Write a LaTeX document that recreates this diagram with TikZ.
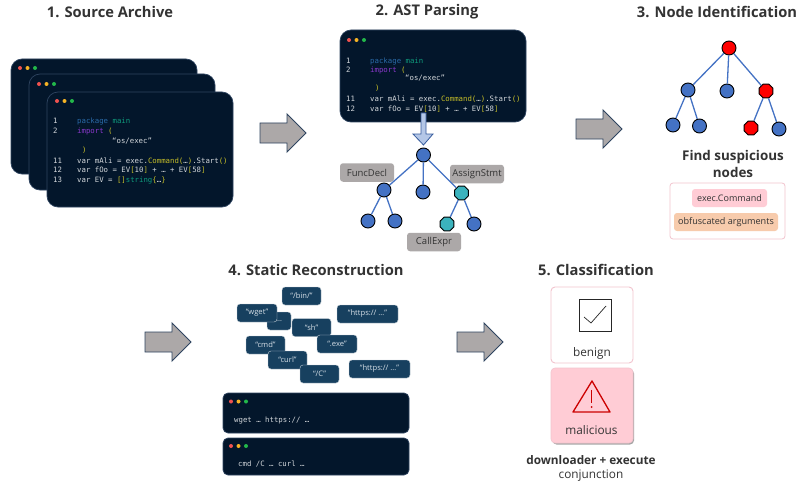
\documentclass[tikz,border=0pt]{standalone}
\usepackage{fontspec}
\setmainfont{Open Sans}
\setmonofont{DejaVu Sans Mono}
\usetikzlibrary{shapes.geometric}
\definecolor{win}{HTML}{03162B}
\definecolor{winb}{HTML}{2E4460}
\definecolor{codetxt}{HTML}{D2D6DA}
\definecolor{kwblue}{HTML}{2A6AA8}
\definecolor{kwgreen}{HTML}{0F9A7C}
\definecolor{kwpurple}{HTML}{8A38CC}
\definecolor{kwyel}{HTML}{C4BC28}
\definecolor{treeblue}{HTML}{4472C4}
\definecolor{teal}{HTML}{3BB3BD}
\definecolor{pinkb}{HTML}{F2C4CE}
\definecolor{pinkf}{HTML}{FFCCD5}
\definecolor{peach}{HTML}{F7CBAC}
\definecolor{pill}{HTML}{17405F}
\definecolor{pilltxt}{HTML}{D5DEE6}
\definecolor{lab}{HTML}{ACA8A8}
\definecolor{inkc}{HTML}{333333}
\definecolor{downfill}{HTML}{B4C7E7}
\definecolor{dotr}{HTML}{F0524F}
\definecolor{doty}{HTML}{F5B325}
\definecolor{dotg}{HTML}{22B84A}
\newcommand{\ky}[1]{\textcolor{kwyel}{#1}}
\newcommand{\kg}[1]{\textcolor{kwgreen}{#1}}
\newcount\clc
\newcommand{\cl}[3]{\global\advance\clc by 1 \node[codeline] (code\the\clc) at (#1,#2) {#3};}
\newcommand{\windots}[2]{%
  \fill[dotr] (#1,#2) circle (2pt);
  \fill[doty] (#1+7.5,#2) circle (2pt);
  \fill[dotg] (#1+15,#2) circle (2pt);}
\newcommand{\bigarr}[2]{\draw[garrow] (#1,#2-10) -- (#1+27,#2-10) -- (#1+27,#2-19) -- (#1+46,#2) -- (#1+27,#2+19) -- (#1+27,#2+10) -- (#1,#2+10) -- cycle;}
\tikzset{
  x=1pt,y=-1pt,
  codeline/.style={anchor=base west,inner sep=0pt,text=codetxt,font=\ttfamily\fontsize{7.35}{9}\selectfont},
  window/.style={fill=win,draw=winb,line width=0.7pt,rounded corners=#1},
  garrow/.style={fill=lab,draw=winb,line width=0.9pt},
  ttl/.style={font=\fontsize{14.7}{17}\selectfont\bfseries,text=inkc,inner sep=0pt},
  tnode/.style={circle,draw=black,fill=treeblue,line width=0.9pt,minimum size=#1,inner sep=0pt},
  hexn/.style={regular polygon,regular polygon sides=8,draw=black,fill=#1,line width=0.9pt,minimum size=15pt,inner sep=0pt},
  tedge/.style={treeblue,line width=1.3pt},
  glab/.style={fill=lab,rounded corners=3pt,text=inkc,font=\fontsize{9.5}{11}\selectfont,minimum width=54pt,minimum height=18.5pt,inner sep=0pt},
  pillb/.style={fill=pill,draw=white!75!pill,line width=0.4pt,rounded corners=3pt,text=pilltxt,font=\fontsize{7.6}{9}\selectfont,minimum height=18pt,minimum width=#1,inner sep=0pt},
  lbl/.style={inner sep=0pt,text=inkc,font=\fontsize{9}{11}\selectfont},
  bold/.style={inner sep=0pt,text=inkc,font=\fontsize{13.4}{17}\selectfont\bfseries,align=center},
}
\begin{document}
\begin{tikzpicture}
\useasboundingbox (0,0) rectangle (796,487);
\fill[white] (0,0) rectangle (796,487);
% titles
\node[ttl] (t1) at (110,12) {1. Source Archive};
\node[ttl] (t2) at (427,12) {2. AST Parsing};
\node[ttl] (t3) at (717,12) {3. Node Identification};
\node[ttl] (t4) at (316,270) {4. Static Reconstruction};
\node[ttl] (t5) at (596,270) {5. Classification};
% source archive
\draw[window=11pt] (11,59) rectangle (197,174); \windots{20}{68}
\draw[window=11pt] (29,74) rectangle (215,190); \windots{39}{84}
\draw[window=11pt] (47,92) rectangle (233,207); \windots{57}{101}
\cl{53}{124}{1}
\cl{53}{134}{2}
\cl{53}{163}{11}
\cl{53}{172}{12}
\cl{53}{182}{13}
\cl{77}{124}{\textcolor{kwblue}{package} \kg{main}}
\cl{77}{134}{\textcolor{kwpurple}{import} \ky{(}}
\cl{112}{143}{“os/exec”}
\cl{82}{153}{\ky{)}}
\cl{77}{163}{var mAli = exec.\ky{Command(}…\ky{)}.Start\ky{()}}
\cl{77}{172}{var fOo = EV\ky{[}10\ky{]} + … + EV\ky{[}58\ky{]}}
\cl{77}{182}{var EV = \ky{[]}\kg{string}\ky{\{}…\ky{\}}}
% arrows
\bigarr{260}{133}
\bigarr{576}{129}
\bigarr{145}{342}
\bigarr{457}{342}
% AST window
\draw[window=11pt] (340,30) rectangle (526,122); \windots{349}{40}
\cl{346}{64}{1}
\cl{346}{73}{2}
\cl{346}{102}{11}
\cl{346}{111}{12}
\cl{370}{64}{\textcolor{kwblue}{package} \kg{main}}
\cl{370}{73}{\textcolor{kwpurple}{import} \ky{(}}
\cl{405}{81}{“os/exec”}
\cl{375}{91}{\ky{)}}
\cl{370}{102}{var mAli = exec.\ky{Command(}…\ky{)}.Start\ky{()}}
\cl{370}{111}{var fOo = EV\ky{[}10\ky{]} + … + EV\ky{[}58\ky{]}}
\draw[fill=downfill,draw=treeblue!80!black,line width=0.8pt]
  (421,113) -- (426,113) -- (426,134) -- (433,134) -- (423.5,145) -- (413,134) -- (421,134) -- cycle;
% AST labels
\node[glab] (funcdecl) at (367,172.5) {FuncDecl};
\node[glab] (assign) at (477,174) {AssignStmt};
\node[glab] (callexpr) at (434,242) {CallExpr};
% AST tree
\node[tnode=14pt] (a0) at (423.5,155) {};
\node[tnode=14pt] (a1) at (384,190) {};
\node[tnode=14pt] (a2) at (423,192) {};
\node[hexn=teal] (a3) at (461.5,193) {};
\node[tnode=14pt] (a4) at (368,221) {};
\node[tnode=14pt] (a5) at (395,221) {};
\node[hexn=teal] (a6) at (447,224) {};
\node[tnode=14pt] (a7) at (474,224) {};
\draw[tedge] (a0) -- (a1); \draw[tedge] (a0) -- (a2); \draw[tedge] (a0) -- (a3);
\draw[tedge] (a1) -- (a4); \draw[tedge] (a1) -- (a5);
\draw[tedge] (a3) -- (a6); \draw[tedge] (a3) -- (a7);
% Node identification tree
\node[tnode=14pt,fill=red] (b0) at (729,48) {};
\node[tnode=14pt] (b1) at (688,90) {};
\node[tnode=14pt] (b2) at (727,91) {};
\node[hexn=red] (b3) at (766,91) {};
\node[tnode=14pt] (b4) at (673,125) {};
\node[tnode=14pt] (b5) at (699.5,126) {};
\node[hexn=red] (b6) at (751,128) {};
\node[tnode=14pt] (b7) at (779,129) {};
\draw[tedge] (b0) -- (b1); \draw[tedge] (b0) -- (b2); \draw[tedge] (b0) -- (b3);
\draw[tedge] (b1) -- (b4); \draw[tedge] (b1) -- (b5);
\draw[tedge] (b3) -- (b6); \draw[tedge] (b3) -- (b7);
\node[bold] (find) at (733,163.5) {Find suspicious\\nodes};
\draw[draw=pinkb,fill=white,rounded corners=3pt,line width=0.8pt] (670,183) rectangle (785,239);
\node[fill=pinkf,rounded corners=3pt,minimum width=75pt,minimum height=18pt,inner sep=0pt,lbl,font=\fontsize{9}{11}\selectfont] (ec) at (729.5,198) {exec.Command};
\node[fill=peach,rounded corners=3pt,minimum width=104pt,minimum height=18pt,inner sep=0pt,lbl,font=\fontsize{9.1}{11}\selectfont] (ob) at (726,222) {obfuscated arguments};
% pills
\node[pillb=24pt] (p3) at (279,321) {…};
\node[pillb=39pt] (p1) at (301.5,296) {“/bin/”};
\node[pillb=40pt] (p2) at (257,313) {“wget”};
\node[pillb=39pt] (p4) at (311.5,327.5) {“sh”};
\node[pillb=40pt] (p5) at (337,344) {“.exe”};
\node[pillb=61pt] (p6) at (367.5,314) {“https:// …”};
\node[pillb=39pt] (p7) at (265.5,345) {“cmd”};
\node[pillb=39pt] (p8) at (287.5,360) {“curl”};
\node[pillb=39pt] (p9) at (319.5,374) {“/C”};
\node[pillb=61pt] (p10) at (379.5,369) {“https:// …”};
% terminals
\draw[window=5pt] (223,393) rectangle (409,433); \windots{231}{401.5}
\cl{234}{422}{wget … https:// …}
\draw[window=5pt] (223,438) rectangle (409,475); \windots{231}{446}
\cl{238}{466}{cmd /C … curl …}
% benign
\draw[draw=pinkb,fill=white,rounded corners=4pt,line width=0.9pt] (551,287) rectangle (633,363);
\draw[black!85,line width=0.9pt] (579,299) rectangle (611,331);
\draw[black!85,line width=0.7pt] (584,317) -- (591,323) -- (606,306);
\node[lbl,font=\fontsize{11.8}{14}\selectfont] (benign) at (592,353) {benign};
% malicious
\fill[gray!70,rounded corners=4pt] (552.5,369.5) rectangle (634,444.5);
\draw[draw=pinkb,fill=pinkf,rounded corners=4pt,line width=0.6pt] (551,368) rectangle (633,443);
\draw[draw=red!80!black,line width=1.3pt,line join=round] (592,381) -- (610,412) -- (573,412) -- cycle;
\draw[draw=red!80!black,line width=1.3pt] (591.7,390) -- (591.7,403);
\fill[red!80!black] (591.7,407) circle (1pt);
\node[lbl,font=\fontsize{11.8}{14}\selectfont] (malicious) at (591.5,430) {malicious};
\node[lbl,font=\fontsize{11.8}{14}\selectfont\bfseries] (dl) at (591,460) {downloader + execute};
\node[lbl,font=\fontsize{11.8}{14}\selectfont] (conj) at (591,476) {conjunction};
\end{tikzpicture}
\end{document}
